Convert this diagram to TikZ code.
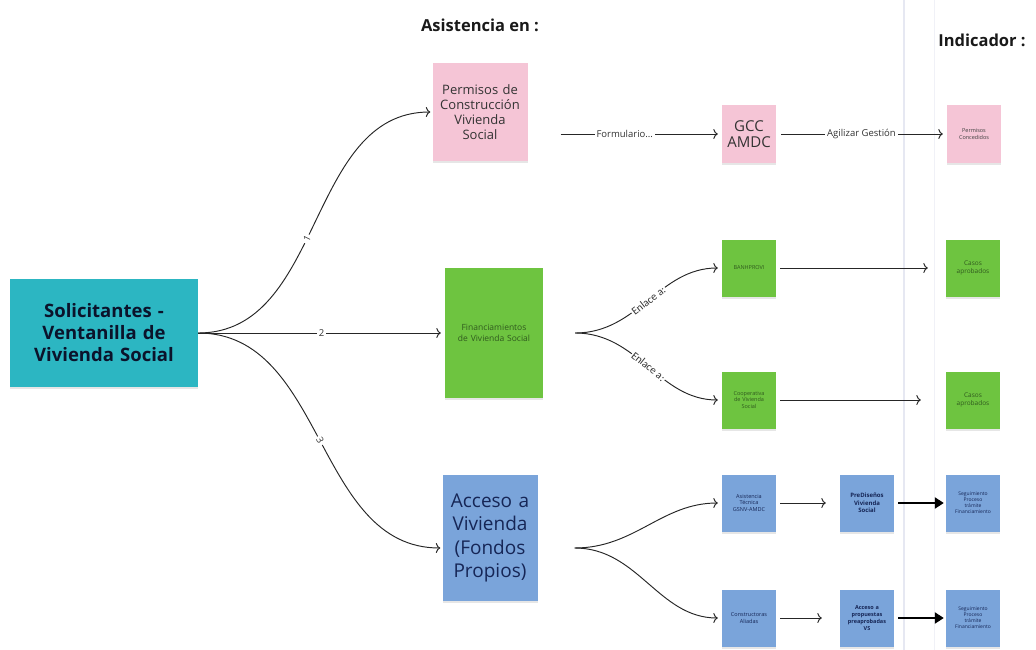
\documentclass[tikz,border=0pt]{standalone}
\usepackage{fontspec}
\setmainfont{Open Sans}
\newfontfamily\calfont{Carlito}
\usetikzlibrary{positioning,arrows.meta,shadows}
\definecolor{tealnote}{RGB}{44,182,194}
\definecolor{pinknote}{RGB}{245,197,214}
\definecolor{greennote}{RGB}{110,196,64}
\definecolor{bluenote}{RGB}{122,164,218}
\definecolor{navytext}{RGB}{22,38,86}
\definecolor{greentext}{RGB}{48,90,30}
\definecolor{edgeline}{RGB}{230,232,242}
\tikzset{
  note/.style={fill=#1, minimum width=54pt, minimum height=57pt, text width=50pt,
    align=center, inner sep=1pt, font=\fontsize{5.5}{6.5}\selectfont,
    drop shadow={shadow xshift=0pt, shadow yshift=-2pt, opacity=.2}},
  link/.style={line width=0.95pt, draw=black!85, -{To[length=4.5pt,width=10pt]}},
  boldlink/.style={line width=2.2pt, -{Triangle[length=9pt,width=11pt]}},
  lbl/.style={fill=white, inner sep=2pt, text=black!80, font=\fontsize{9.5}{10}\selectfont},
  head/.style={font=\bfseries\fontsize{16.5}{18}\selectfont, text=black!90}
}
\begin{document}
\begin{tikzpicture}[x=1pt,y=-1pt,on grid]
\useasboundingbox (0,0) rectangle (1036,650);
\draw[edgeline, line width=1.2pt] (904,0) -- (904,650);
\draw[edgeline!60, line width=1pt] (934,0) -- (934,650);

\node[note=tealnote, minimum width=188pt, minimum height=108pt, text width=180pt, font=\bfseries\fontsize{18.5}{22}\selectfont, text=navytext!50!black] (a) at (104,333) {Solicitantes -\\Ventanilla de\\Vivienda Social};
\node[note=pinknote, minimum width=95pt, minimum height=98pt, text width=93pt, font=\fontsize{13}{15}\selectfont, text=black!80, above right=221pt and 376pt of a] (p) {Permisos de\\Construcción\\Vivienda\\Social};
\node[note=greennote, minimum width=98pt, minimum height=130pt, text width=94pt, font=\fontsize{8.5}{10.5}\selectfont, text=greentext, right=390pt of a] (f) {Financiamientos\\de Vivienda Social};
\node[note=bluenote, minimum width=95pt, minimum height=126pt, text width=93pt, font=\fontsize{19}{23.5}\selectfont, text=navytext, below right=205pt and 386pt of a] (v) {Acceso a\\Vivienda\\(Fondos\\Propios)};
\node[head, above=87pt of p] (h1) {Asistencia en :};

\node[note=pinknote, font=\fontsize{15}{16}\selectfont, text=black!80, below right=22pt and 269pt of p] (g) {GCC\\AMDC};
\node[note=pinknote, text=black!75, right=225pt of g] (pc) {Permisos\\Concedidos};
\node[head, above right=94pt and 8pt of pc] (h2) {Indicador :};
\node[note=greennote, text=greentext, above right=65pt and 255pt of f] (b1) {BANHPROVI};
\node[note=greennote, text=greentext, font=\fontsize{6.5}{8}\selectfont, right=224pt of b1] (c1) {Casos\\aprobados};
\node[note=greennote, text=greentext, below right=67pt and 255pt of f] (b2) {Cooperativa\\de Vivienda\\Social};
\node[note=greennote, text=greentext, font=\fontsize{6.5}{8}\selectfont, right=224pt of b2] (c2) {Casos\\aprobados};
\node[note=bluenote, text=navytext, above right=35pt and 259pt of v] (s1) {Asistencia\\Técnica\\GSNV-AMDC};
\node[note=bluenote, text=navytext, font=\bfseries\fontsize{6}{7.5}\selectfont, right=118pt of s1] (d1) {PreDiseños\\Vivienda\\Social};
\node[note=bluenote, text=navytext, font=\fontsize{5}{6}\selectfont, right=106pt of d1] (i1) {Seguimiento\\Proceso\\trámite\\Financiamiento};
\node[note=bluenote, text=navytext, below right=80pt and 259pt of v] (s2) {Constructoras\\Aliadas};
\node[note=bluenote, text=navytext, font=\bfseries\fontsize{5.5}{7}\selectfont, right=118pt of s2] (d2) {Acceso a\\propuestas\\preaprobadas\\VS};
\node[note=bluenote, text=navytext, font=\fontsize{5}{6}\selectfont, right=106pt of d2] (i2) {Seguimiento\\Proceso\\trámite\\Financiamiento};

\draw[link, shorten >=2pt] (a.east) to[out=0,in=180] node[lbl, sloped, pos=.45]{1} (p.west);
\draw[link, shorten >=4pt] (a.east) -- node[lbl]{2} (f.west);
\draw[link, shorten >=2pt] (a.east) to[out=0,in=180] node[lbl, sloped, pos=.5]{3} ([yshift=-10pt]v.west);
\draw[link, shorten <=33pt, shorten >=4pt] (p.east |- g) -- node[lbl]{Formulario...} (g.west);
\draw[link, shorten <=5pt, shorten >=4pt] (g.east) -- node[lbl]{Agilizar Gestión} (pc.west);
\draw[link, shorten >=4pt] ([xshift=32pt]f.east) to[out=0,in=180] node[lbl, sloped, inner sep=1pt, font=\calfont\fontsize{11}{12}\selectfont]{Enlace a:} (b1.west);
\draw[link, shorten >=4pt] ([xshift=32pt]f.east) to[out=0,in=180] node[lbl, sloped, inner sep=1pt, font=\calfont\fontsize{11}{12}\selectfont]{Enlace a:} (b2.west);
\draw[link, shorten <=4pt, shorten >=18pt] (b1.east) -- (c1.west);
\draw[link, shorten <=4pt, shorten >=25pt] (b2.east) -- (c2.west);
\draw[link, shorten >=4pt] ([xshift=37pt,yshift=-10pt]v.east) to[out=0,in=180] (s1.west);
\draw[link, shorten >=4pt] ([xshift=37pt,yshift=-10pt]v.east) to[out=0,in=180] (s2.west);
\draw[link, shorten <=4pt, shorten >=14pt] (s1.east) -- (d1.west);
\draw[link, shorten <=4pt, shorten >=18pt] (s2.east) -- (d2.west);
\draw[boldlink, shorten <=4pt, shorten >=2pt] (d1.east) -- (i1.west);
\draw[boldlink, shorten <=4pt, shorten >=2pt] (d2.east) -- (i2.west);
\end{tikzpicture}
\end{document}
